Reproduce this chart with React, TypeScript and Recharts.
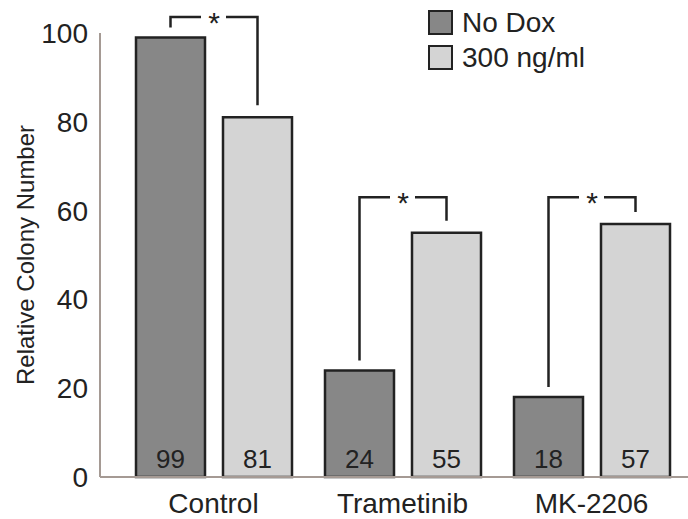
import { BarChart, Bar, XAxis, YAxis, LabelList } from 'recharts'

const categories = ['Control', 'Trametinib', 'MK-2206']
const noDox = [99, 24, 18]
const dox300 = [81, 55, 57]
const bracketTop = [103.6, 63, 63]
const yTicks = [0, 20, 40, 60, 80, 100]

const seriesNames = { noDox: 'No Dox', dox300: '300 ng/ml' }
const DARK = '#878787'
const LIGHT = '#d4d4d4'
const INK = '#222'
const AXIS = '#a59a94'
const FONT = '"Liberation Sans", Arial, sans-serif'

const data = categories.map((name, i) => ({
  name,
  noDox: noDox[i],
  dox300: dox300[i],
}))

// px per unit from the bar itself, so the bracket goes through the y scale
function bracketY(y: number, height: number, value: number, top: number) {
  const base = y + height
  return base - (top * height) / value
}

function ValueLabel(props: any) {
  const { x, y, width, height, value } = props
  return (
    <text
      x={x + width / 2}
      y={y + height - 9}
      textAnchor="middle"
      fontSize={26}
      fontFamily={FONT}
      fill={INK}
    >
      {value}
    </text>
  )
}

function LeftBracket(props: any) {
  const { x, y, width, height, value, index } = props
  const cx = x + width / 2
  const ty = bracketY(y, height, value, bracketTop[index])
  const gapMid = x + width + 9
  return (
    <path
      d={`M${cx},${y - 10} V${ty} H${gapMid - 13}`}
      fill="none"
      stroke={INK}
      strokeWidth={2.5}
    />
  )
}

function RightBracket(props: any) {
  const { x, y, width, height, value, index } = props
  const cx = x + width / 2
  const ty = bracketY(y, height, value, bracketTop[index])
  const gapMid = x - 9
  return (
    <g>
      <path
        d={`M${gapMid + 12},${ty} H${cx} V${y - 12}`}
        fill="none"
        stroke={INK}
        strokeWidth={2.5}
      />
      <text
        x={gapMid}
        y={ty + 16}
        textAnchor="middle"
        fontSize={30}
        fontFamily={FONT}
        fill={INK}
      >
        *
      </text>
    </g>
  )
}

function LegendBox() {
  const items = [
    { label: seriesNames.noDox, color: DARK },
    { label: seriesNames.dox300, color: LIGHT },
  ]
  return (
    <div style={{ position: 'absolute', left: 428, top: 5, fontFamily: FONT, color: INK }}>
      {items.map((it) => (
        <div key={it.label} style={{ display: 'flex', alignItems: 'center', height: 35 }}>
          <span
            style={{
              width: 21,
              height: 21,
              background: it.color,
              border: `2px solid ${INK}`,
              marginRight: 9,
            }}
          />
          <span style={{ fontSize: 28, lineHeight: '30px' }}>{it.label}</span>
        </div>
      ))}
    </div>
  )
}

function YTitle(props: any) {
  const { viewBox } = props
  const cx = viewBox.x + 25
  const cy = viewBox.y + viewBox.height / 2
  return (
    <text
      x={cx}
      y={cy}
      transform={`rotate(-90 ${cx} ${cy})`}
      textAnchor="middle"
      dominantBaseline="central"
      fontSize={24}
      fontFamily={FONT}
      fill={INK}
    >
      Relative Colony Number
    </text>
  )
}

export default function App() {
  return (
    <div style={{ position: 'absolute', left: 0, top: 0, width: 688, height: 519, background: '#fff' }}>
      <BarChart
        width={688}
        height={519}
        data={data}
        margin={{ top: 33, right: 0, bottom: 0, left: 0 }}
        barSize={69}
        barGap={18}
      >
        <XAxis
          dataKey="name"
          height={42}
          padding={{ left: 19, right: 2 }}
          tickLine={false}
          tickSize={0}
          tickMargin={16}
          axisLine={{ stroke: AXIS, strokeWidth: 2 }}
          tick={{ fontSize: 28, fontFamily: FONT, fill: INK }}
        />
        <YAxis
          width={100}
          domain={[0, 100]}
          ticks={yTicks}
          interval={0}
          tickLine={false}
          tickSize={0}
          tickMargin={12}
          axisLine={{ stroke: AXIS, strokeWidth: 2 }}
          tick={{ fontSize: 28, fontFamily: FONT, fill: INK }}
          label={<YTitle />}
        />
        <Bar
          dataKey="noDox"
          name={seriesNames.noDox}
          fill={DARK}
          stroke={INK}
          strokeWidth={2.5}
          isAnimationActive={false}
        >
          <LabelList dataKey="noDox" content={<ValueLabel />} />
          <LabelList dataKey="noDox" content={<LeftBracket />} />
        </Bar>
        <Bar
          dataKey="dox300"
          name={seriesNames.dox300}
          fill={LIGHT}
          stroke={INK}
          strokeWidth={2.5}
          isAnimationActive={false}
        >
          <LabelList dataKey="dox300" content={<ValueLabel />} />
          <LabelList dataKey="dox300" content={<RightBracket />} />
        </Bar>
      </BarChart>
      <LegendBox />
    </div>
  )
}
